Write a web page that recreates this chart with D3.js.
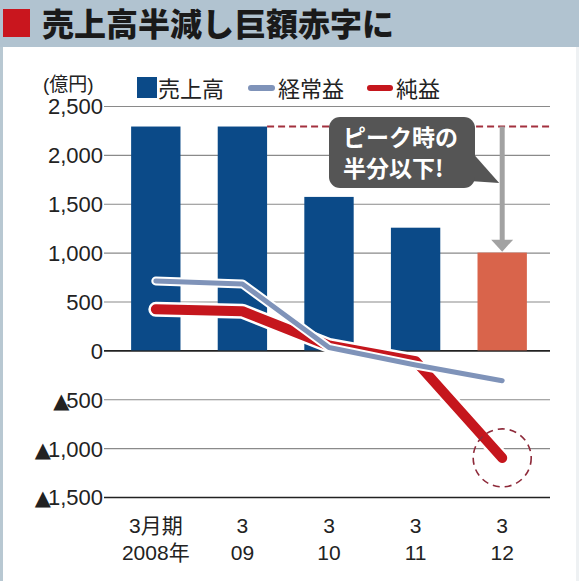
<!DOCTYPE html>
<meta charset="utf-8">

<style>

body {
  margin: 0;
  background: #fff;
}

text {
  font-family: "Liberation Sans", "Noto Sans CJK JP", sans-serif;
}

.title {
  font-family: "Noto Sans CJK JP", sans-serif;
  font-weight: 900;
  font-size: 32px;
  fill: #1a1a1a;
}

.tick text {
  font-size: 22px;
  fill: #222;
}

.legend text {
  font-size: 22px;
  fill: #222;
}

</style>

<body>

<script src="https://cdnjs.cloudflare.com/ajax/libs/d3/7.8.5/d3.min.js"></script>

<svg id="chart" width="579" height="581"></svg>

<script>

// values in 億円
var periods = ["2008", "2009", "2010", "2011", "2012"];
var tickTop = ["3月期", "3", "3", "3", "3"];
var tickBottom = ["2008年", "09", "10", "11", "12"];
var sales = [2290, 2290, 1570, 1255, 1000];
var ordinary = [710, 680, 30, -150, -310];
var net = [420, 400, 50, -110, -1100];
var yTicks = [2500, 2000, 1500, 1000, 500, 0, -500, -1000, -1500];

var width = 579,
    height = 581;

var svg = d3.select("#chart");

// header band
svg.append("rect")
    .attr("x", 0).attr("y", 0)
    .attr("width", width).attr("height", 47)
    .style("fill", "#b1c3d0");

// frame on the sides
svg.append("rect")
    .attr("x", 0).attr("y", 47)
    .attr("width", 3).attr("height", height - 47)
    .style("fill", "#b8c8d2");
svg.append("rect")
    .attr("x", width - 3).attr("y", 47)
    .attr("width", 3).attr("height", height - 47)
    .style("fill", "#eef1f3");

svg.append("rect")
    .attr("x", 3).attr("y", 9)
    .attr("width", 27).attr("height", 28)
    .style("fill", "#c9161e");

svg.append("text")
    .attr("class", "title")
    .attr("x", 42)
    .attr("y", 36)
    .text("売上高半減し巨額赤字に");

var x = d3.scaleBand()
    .domain(periods)
    .range([108, 550])
    .paddingInner(0.43)
    .paddingOuter(0.267);

var y = d3.scaleLinear()
    .domain([-1500, 2500])
    .range([497, 106]);

// y axis with gridlines
var yAxis = svg.append("g")
    .attr("transform", "translate(108,0)")
    .call(d3.axisLeft(y)
      .tickValues(yTicks)
      .tickSize(-442)
      .tickPadding(5)
      .tickFormat(function(d) { return d3.format(",")(Math.abs(d)); }));

yAxis.select(".domain").remove();
yAxis.selectAll(".tick line")
    .attr("x1", -4)
    .style("stroke", function(d) { return (d === 0 || d === -1500) ? "#222" : "#8a8a8a"; })
    .style("stroke-width", function(d) { return (d === 0 || d === -1500) ? 1.6 : 1.1; });
yAxis.selectAll(".tick text")
    .attr("x", -5)
    .attr("dy", "0.36em");

// negative values get a ▲ in front
yAxis.selectAll(".tick text")
    .filter(function(d) { return d < 0; })
    .each(function(d) {
      var t = d3.select(this);
      var s = t.text();
      t.text("");
      t.append("tspan")
          .style("font-family", "'DejaVu Sans', sans-serif")
          .style("font-size", "21px")
          .style("letter-spacing", "-3px")
          .text("▲");
      t.append("tspan").text(s);
    });

// unit label
svg.append("text")
    .attr("x", 43)
    .attr("y", 91)
    .style("font-size", "19px")
    .style("fill", "#222")
    .text("(億円)");

// bars
svg.append("g")
  .selectAll("rect")
    .data(sales)
  .enter().append("rect")
    .attr("x", function(d, i) { return x(periods[i]); })
    .attr("y", function(d) { return y(d); })
    .attr("width", x.bandwidth())
    .attr("height", function(d) { return y(0) - y(d); })
    .style("fill", function(d, i) { return i === sales.length - 1 ? "#d9644b" : "#0b4a88"; });

// peak dashed line
svg.append("line")
    .attr("x1", x(periods[1]) + x.bandwidth())
    .attr("x2", 550)
    .attr("y1", y(sales[0]))
    .attr("y2", y(sales[0]))
    .style("stroke", "#a3303e")
    .style("stroke-width", 2)
    .style("stroke-dasharray", "7,4");

// arrow from peak to last bar
var ax = x(periods[4]) + x.bandwidth() / 2;
svg.append("line")
    .attr("x1", ax).attr("x2", ax)
    .attr("y1", y(sales[0]))
    .attr("y2", y(sales[4]) - 12)
    .style("stroke", "#a2a2a2")
    .style("stroke-width", 5);
svg.append("path")
    .attr("d", "M" + (ax - 11) + "," + (y(sales[4]) - 13) +
               "L" + (ax + 11) + "," + (y(sales[4]) - 13) +
               "L" + ax + "," + (y(sales[4]) - 1) + "Z")
    .style("fill", "#a2a2a2");

// callout
svg.append("path")
    .attr("d", "M455,180 L" + (ax - 3) + ",183 L470,150 Z")
    .style("fill", "#555555");
svg.append("rect")
    .attr("x", 329).attr("y", 117)
    .attr("width", 146).attr("height", 71)
    .attr("rx", 11)
    .style("fill", "#555555");
svg.append("text")
    .attr("x", 343).attr("y", 146)
    .style("font-family", "'Noto Sans CJK JP', sans-serif")
    .style("font-weight", "bold")
    .style("font-size", "23px")
    .style("fill", "#fff")
    .text("ピーク時の");
svg.append("text")
    .attr("x", 343).attr("y", 177)
    .style("font-family", "'Noto Sans CJK JP', sans-serif")
    .style("font-weight", "bold")
    .style("font-size", "23px")
    .style("fill", "#fff")
    .text("半分以下!");

// lines
var line = d3.line()
    .x(function(d, i) { return x(periods[i]) + x.bandwidth() / 2; })
    .y(function(d) { return y(d); });

svg.append("path")
    .attr("d", line(net))
    .style("fill", "none")
    .style("stroke", "#fff")
    .style("stroke-width", 15)
    .style("stroke-linecap", "round")
    .style("stroke-linejoin", "round");
svg.append("path")
    .attr("d", line(net))
    .style("fill", "none")
    .style("stroke", "#c5161d")
    .style("stroke-width", 10)
    .style("stroke-linecap", "round")
    .style("stroke-linejoin", "round");

svg.append("path")
    .attr("d", line(ordinary))
    .style("fill", "none")
    .style("stroke", "#fff")
    .style("stroke-width", 9)
    .style("stroke-linecap", "round")
    .style("stroke-linejoin", "round");
svg.append("path")
    .attr("d", line(ordinary))
    .style("fill", "none")
    .style("stroke", "#7f93b9")
    .style("stroke-width", 5)
    .style("stroke-linecap", "round")
    .style("stroke-linejoin", "round");

// dashed circle around the last net value
svg.append("circle")
    .attr("cx", x(periods[4]) + x.bandwidth() / 2)
    .attr("cy", y(net[4]))
    .attr("r", 29)
    .style("fill", "none")
    .style("stroke", "#8e2a3a")
    .style("stroke-width", 1.6)
    .style("stroke-dasharray", "7,5");

// x labels (two rows)
var xl = svg.append("g")
  .selectAll("g")
    .data(periods)
  .enter().append("g")
    .attr("transform", function(d) { return "translate(" + (x(d) + x.bandwidth() / 2) + ",0)"; });

xl.append("text")
    .attr("y", 533)
    .attr("text-anchor", "middle")
    .style("font-size", "21px")
    .style("fill", "#222")
    .text(function(d, i) { return tickTop[i]; });

xl.append("text")
    .attr("y", 560)
    .attr("text-anchor", "middle")
    .style("font-size", "21px")
    .style("fill", "#222")
    .text(function(d, i) { return tickBottom[i]; });

// legend
var legend = svg.append("g").attr("class", "legend");

legend.append("rect")
    .attr("x", 137).attr("y", 77)
    .attr("width", 20).attr("height", 21)
    .style("fill", "#0b4a88");
legend.append("text")
    .attr("x", 158).attr("y", 97)
    .text("売上高");

legend.append("line")
    .attr("x1", 251).attr("x2", 272)
    .attr("y1", 88).attr("y2", 88)
    .style("stroke", "#7f93b9")
    .style("stroke-width", 6)
    .style("stroke-linecap", "round");
legend.append("text")
    .attr("x", 278).attr("y", 97)
    .text("経常益");

legend.append("line")
    .attr("x1", 370).attr("x2", 390)
    .attr("y1", 88).attr("y2", 88)
    .style("stroke", "#c5161d")
    .style("stroke-width", 6)
    .style("stroke-linecap", "round");
legend.append("text")
    .attr("x", 396).attr("y", 97)
    .text("純益");

</script>

</body>
